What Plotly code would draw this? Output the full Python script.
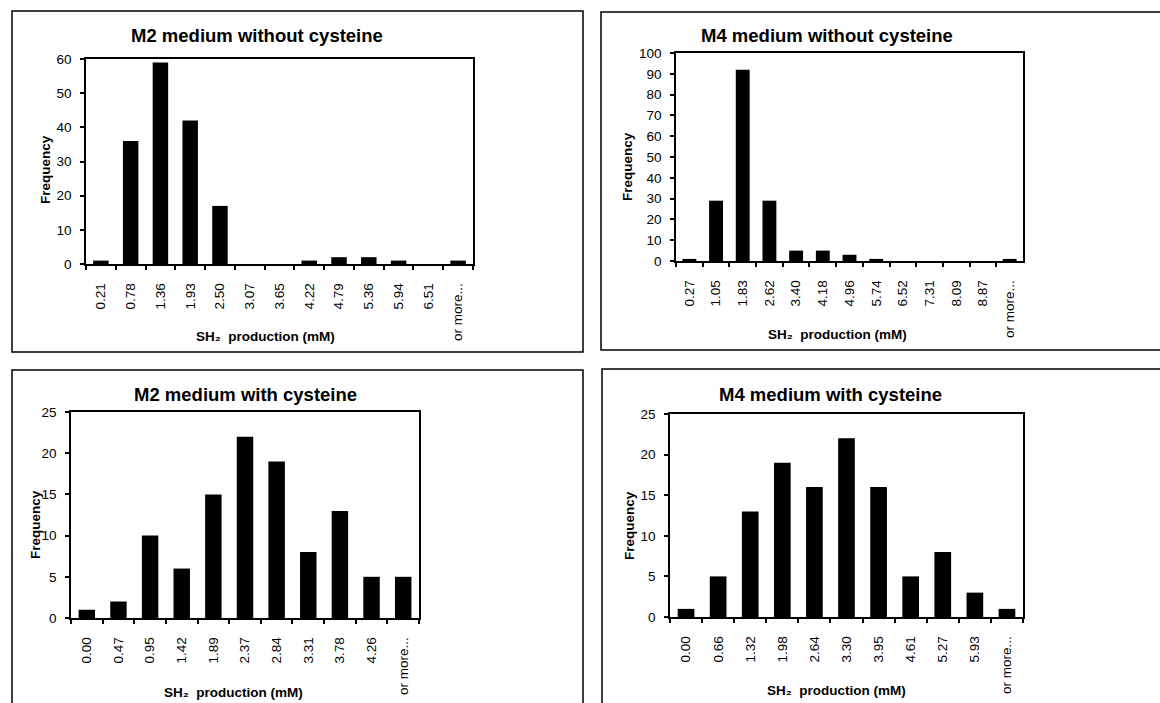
import plotly.graph_objects as go

W, H = 1160, 703

# ---- data ----
m2_without_bins = ["0.21", "0.78", "1.36", "1.93", "2.50", "3.07", "3.65", "4.22",
                   "4.79", "5.36", "5.94", "6.51", "or more..."]
m2_without_freq = [1, 36, 59, 42, 17, 0, 0, 1, 2, 2, 1, 0, 1]

m4_without_bins = ["0.27", "1.05", "1.83", "2.62", "3.40", "4.18", "4.96", "5.74",
                   "6.52", "7.31", "8.09", "8.87", "or more..."]
m4_without_freq = [1, 29, 92, 29, 5, 5, 3, 1, 0, 0, 0, 0, 1]

m2_with_bins = ["0.00", "0.47", "0.95", "1.42", "1.89", "2.37", "2.84", "3.31",
                "3.78", "4.26", "or more..."]
m2_with_freq = [1, 2, 10, 6, 15, 22, 19, 8, 13, 5, 5]

m4_with_bins = ["0.00", "0.66", "1.32", "1.98", "2.64", "3.30", "3.95", "4.61",
                "5.27", "5.93", "or more..."]
m4_with_freq = [1, 5, 13, 19, 16, 22, 16, 5, 8, 3, 1]

panel_titles = ["M2 medium without cysteine", "M4 medium without cysteine",
                "M2 medium with cysteine", "M4 medium with cysteine"]
y_max = [60, 100, 25, 25]
y_step = [10, 10, 5, 5]
x_title = "SH\u2082  production (mM)"
y_title = "Frequency"

series = [(m2_without_bins, m2_without_freq), (m4_without_bins, m4_without_freq),
          (m2_with_bins, m2_with_freq), (m4_with_bins, m4_with_freq)]

# ---- layout geometry (pixels) ----
plots = [(86, 59, 473, 264), (676, 53, 1023, 261), (71, 412, 419, 618), (670, 414, 1023, 617)]
title_pos = [(257, 35), (827, 35), (245, 395), (830, 394)]
xt_pos = [(265, 337), (837, 334), (233, 692), (836, 690)]
yt_pos = [(45, 170), (628, 167), (35, 525), (629, 525)]
boxes = [(12, 11, 583, 352), (601, 12, 1175, 350), (12, 370, 583, 720), (602, 369, 1175, 720)]

FONT = "Liberation Sans, Arial, sans-serif"


def px(x):
    return x / W


def py(y):
    return 1 - y / H


fig = go.Figure()
layout = dict(
    template="none",
    width=W, height=H, margin=dict(l=0, r=0, t=0, b=0, pad=0, autoexpand=False),
    paper_bgcolor="white", plot_bgcolor="white",
    showlegend=False, bargap=0.48,
    font=dict(family=FONT, color="black", size=13),
    annotations=[], shapes=[],
)

for i, ((cats, vals), (l, t, r, b)) in enumerate(zip(series, plots)):
    k = i + 1
    ko = i + 5
    n = len(cats)
    xa = "x" if k == 1 else f"x{k}"
    ya = "y" if k == 1 else f"y{k}"
    fig.add_trace(go.Bar(x=cats, y=vals, xaxis=xa, yaxis=ya,
                         marker=dict(color="black", line=dict(width=0))))
    common_line = dict(showline=True, linecolor="black", linewidth=1.5, mirror=True,
                       showgrid=False, zeroline=False, automargin=False)
    layout[f"xaxis{k}"] = dict(
        domain=[px(l), px(r)], anchor=ya, type="category",
        range=[-0.5, n - 0.5], tickson="boundaries", ticks="outside", ticklen=4,
        tickwidth=1.5, tickcolor="black", tickangle=-90,
        tickfont=dict(size=13.5), ticklabelstandoff=12, **common_line)
    layout[f"yaxis{k}"] = dict(
        domain=[py(b), py(t)], anchor=xa, range=[0, y_max[i]], dtick=y_step[i],
        ticks="outside", ticklen=4, tickwidth=1.5, tickcolor="black",
        tickfont=dict(size=13.5), ticklabelstandoff=6, **common_line)
    # overlay axes: inward half of Excel-style cross tick marks
    boundaries = [j - 0.5 for j in range(n + 1)]
    layout[f"xaxis{ko}"] = dict(
        overlaying=xa, anchor=ya, type="linear", range=[-0.5, n - 0.5],
        tickmode="array", tickvals=boundaries, ticks="inside", ticklen=4,
        tickwidth=1.5, tickcolor="black", showticklabels=False, showgrid=False,
        zeroline=False, showline=False, automargin=False)
    layout[f"yaxis{ko}"] = dict(
        overlaying=ya, anchor=xa, type="linear", range=[0, y_max[i]], dtick=y_step[i],
        ticks="inside", ticklen=4, tickwidth=1.5, tickcolor="black",
        showticklabels=False, showgrid=False, zeroline=False, showline=False,
        automargin=False)

    layout["annotations"].append(dict(
        text=f"<b>{panel_titles[i]}</b>", x=px(title_pos[i][0]), y=py(title_pos[i][1]),
        xref="paper", yref="paper", showarrow=False, xanchor="center", yanchor="middle",
        font=dict(size=18.5, family=FONT)))
    layout["annotations"].append(dict(
        text=f"<b>{x_title}</b>", x=px(xt_pos[i][0]), y=py(xt_pos[i][1]),
        xref="paper", yref="paper", showarrow=False, xanchor="center", yanchor="middle",
        font=dict(size=13.5, family=FONT)))
    layout["annotations"].append(dict(
        text=f"<b>{y_title}</b>", x=px(yt_pos[i][0]), y=py(yt_pos[i][1]),
        xref="paper", yref="paper", showarrow=False, xanchor="center", yanchor="middle",
        textangle=-90, font=dict(size=13.5, family=FONT)))
    bl, bt, br, bb = boxes[i]
    layout["shapes"].append(dict(
        type="rect", xref="paper", yref="paper", x0=px(bl), x1=px(br),
        y0=py(bb), y1=py(bt), line=dict(color="black", width=1.5)))

fig.update_layout(**layout)
fig.write_html("out.html", config={"displayModeBar": False},
               post_script="document.body.style.margin='0';"
                           "document.body.style.overflow='hidden';")
